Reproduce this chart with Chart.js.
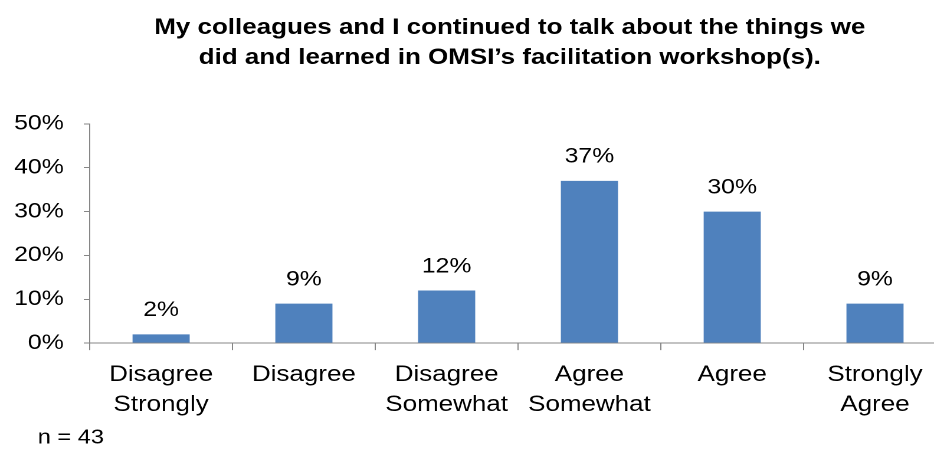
<!DOCTYPE html>
<html>
<head>
<meta charset="utf-8">
<script src="https://cdn.jsdelivr.net/npm/chart.js@4"></script>
<style>
  html, body { margin: 0; padding: 0; background: #fff; overflow: hidden; }
  /* the reference picture is stretched sideways, so the chart is drawn narrower and widened */
  #wrap { width: 802px; height: 451px; transform: scaleX(1.18); transform-origin: 0 0; }
</style>
</head>
<body>
<div id="wrap"><canvas id="miGrafico"></canvas></div>
<script>
const categorias = [['Disagree', 'Strongly'], 'Disagree', ['Disagree', 'Somewhat'], ['Agree', 'Somewhat'], 'Agree', ['Strongly', 'Agree']];
const porcentajes = [2, 9, 12, 37, 30, 9];
const ticksY = [0, 10, 20, 30, 40, 50];
const titulo = ['My colleagues and I continued to talk about the things we', 'did and learned in OMSI\u2019s facilitation workshop(s).'];
const nota = 'n = 43';

const fuente = '"Liberation Sans", Arial, sans-serif';

// etiquetas encima de cada barra y la nota "n = 43"
const etiquetas = {
    id: 'etiquetas',
    afterLayout(chart) {
        // el titulo queda un poco a la izquierda del centro del area
        chart.titleBlock.left -= 7;
        chart.titleBlock.right -= 7;
    },
    afterDatasetsDraw(chart) {
        const ctx = chart.ctx;
        const meta = chart.getDatasetMeta(0);
        ctx.save();
        ctx.fillStyle = '#000';
        ctx.font = '21px ' + fuente;
        ctx.textAlign = 'center';
        ctx.textBaseline = 'middle';
        meta.data.forEach((bar, i) => {
            ctx.fillText(porcentajes[i] + '%', bar.x, bar.y - 24);
        });
        ctx.font = '20px ' + fuente;
        ctx.textAlign = 'left';
        ctx.fillText(nota, 32, 438);
        ctx.restore();
    }
};

const ctx = document.getElementById('miGrafico').getContext('2d');

new Chart(ctx, {
    type: 'bar',
    data: {
        labels: categorias,
        datasets: [{
            data: porcentajes,
            backgroundColor: '#4F81BD',
            barPercentage: 0.4,
            categoryPercentage: 1
        }]
    },
    options: {
        responsive: true,
        maintainAspectRatio: false,
        animation: false,
        devicePixelRatio: 2,
        layout: { padding: { left: -5, right: 0, top: 0, bottom: 21 } },
        plugins: {
            legend: { display: false },
            tooltip: { enabled: false },
            title: {
                display: true,
                text: titulo,
                fullSize: false,
                color: '#000',
                font: { family: fuente, size: 22, weight: 'bold', lineHeight: 1.36 },
                padding: { top: 13, bottom: 51 }
            }
        },
        scales: {
            x: {
                offset: true,
                grid: { offset: true, drawOnChartArea: false, tickLength: 7, color: '#868686' },
                border: { color: '#868686', width: 1 },
                ticks: { color: '#000', font: { family: fuente, size: 22, lineHeight: 1.36 }, padding: 10, maxRotation: 0, autoSkip: false }
            },
            y: {
                min: 0,
                max: 50,
                afterBuildTicks: (axis) => { axis.ticks = ticksY.map(v => ({ value: v })); },
                grid: { drawOnChartArea: false, tickLength: 5, color: '#868686' },
                border: { color: '#868686', width: 1 },
                ticks: { color: '#000', font: { family: fuente, size: 21 }, padding: 17, callback: (v) => v + '%' }
            }
        }
    },
    plugins: [etiquetas]
});
</script>
</body>
</html>
